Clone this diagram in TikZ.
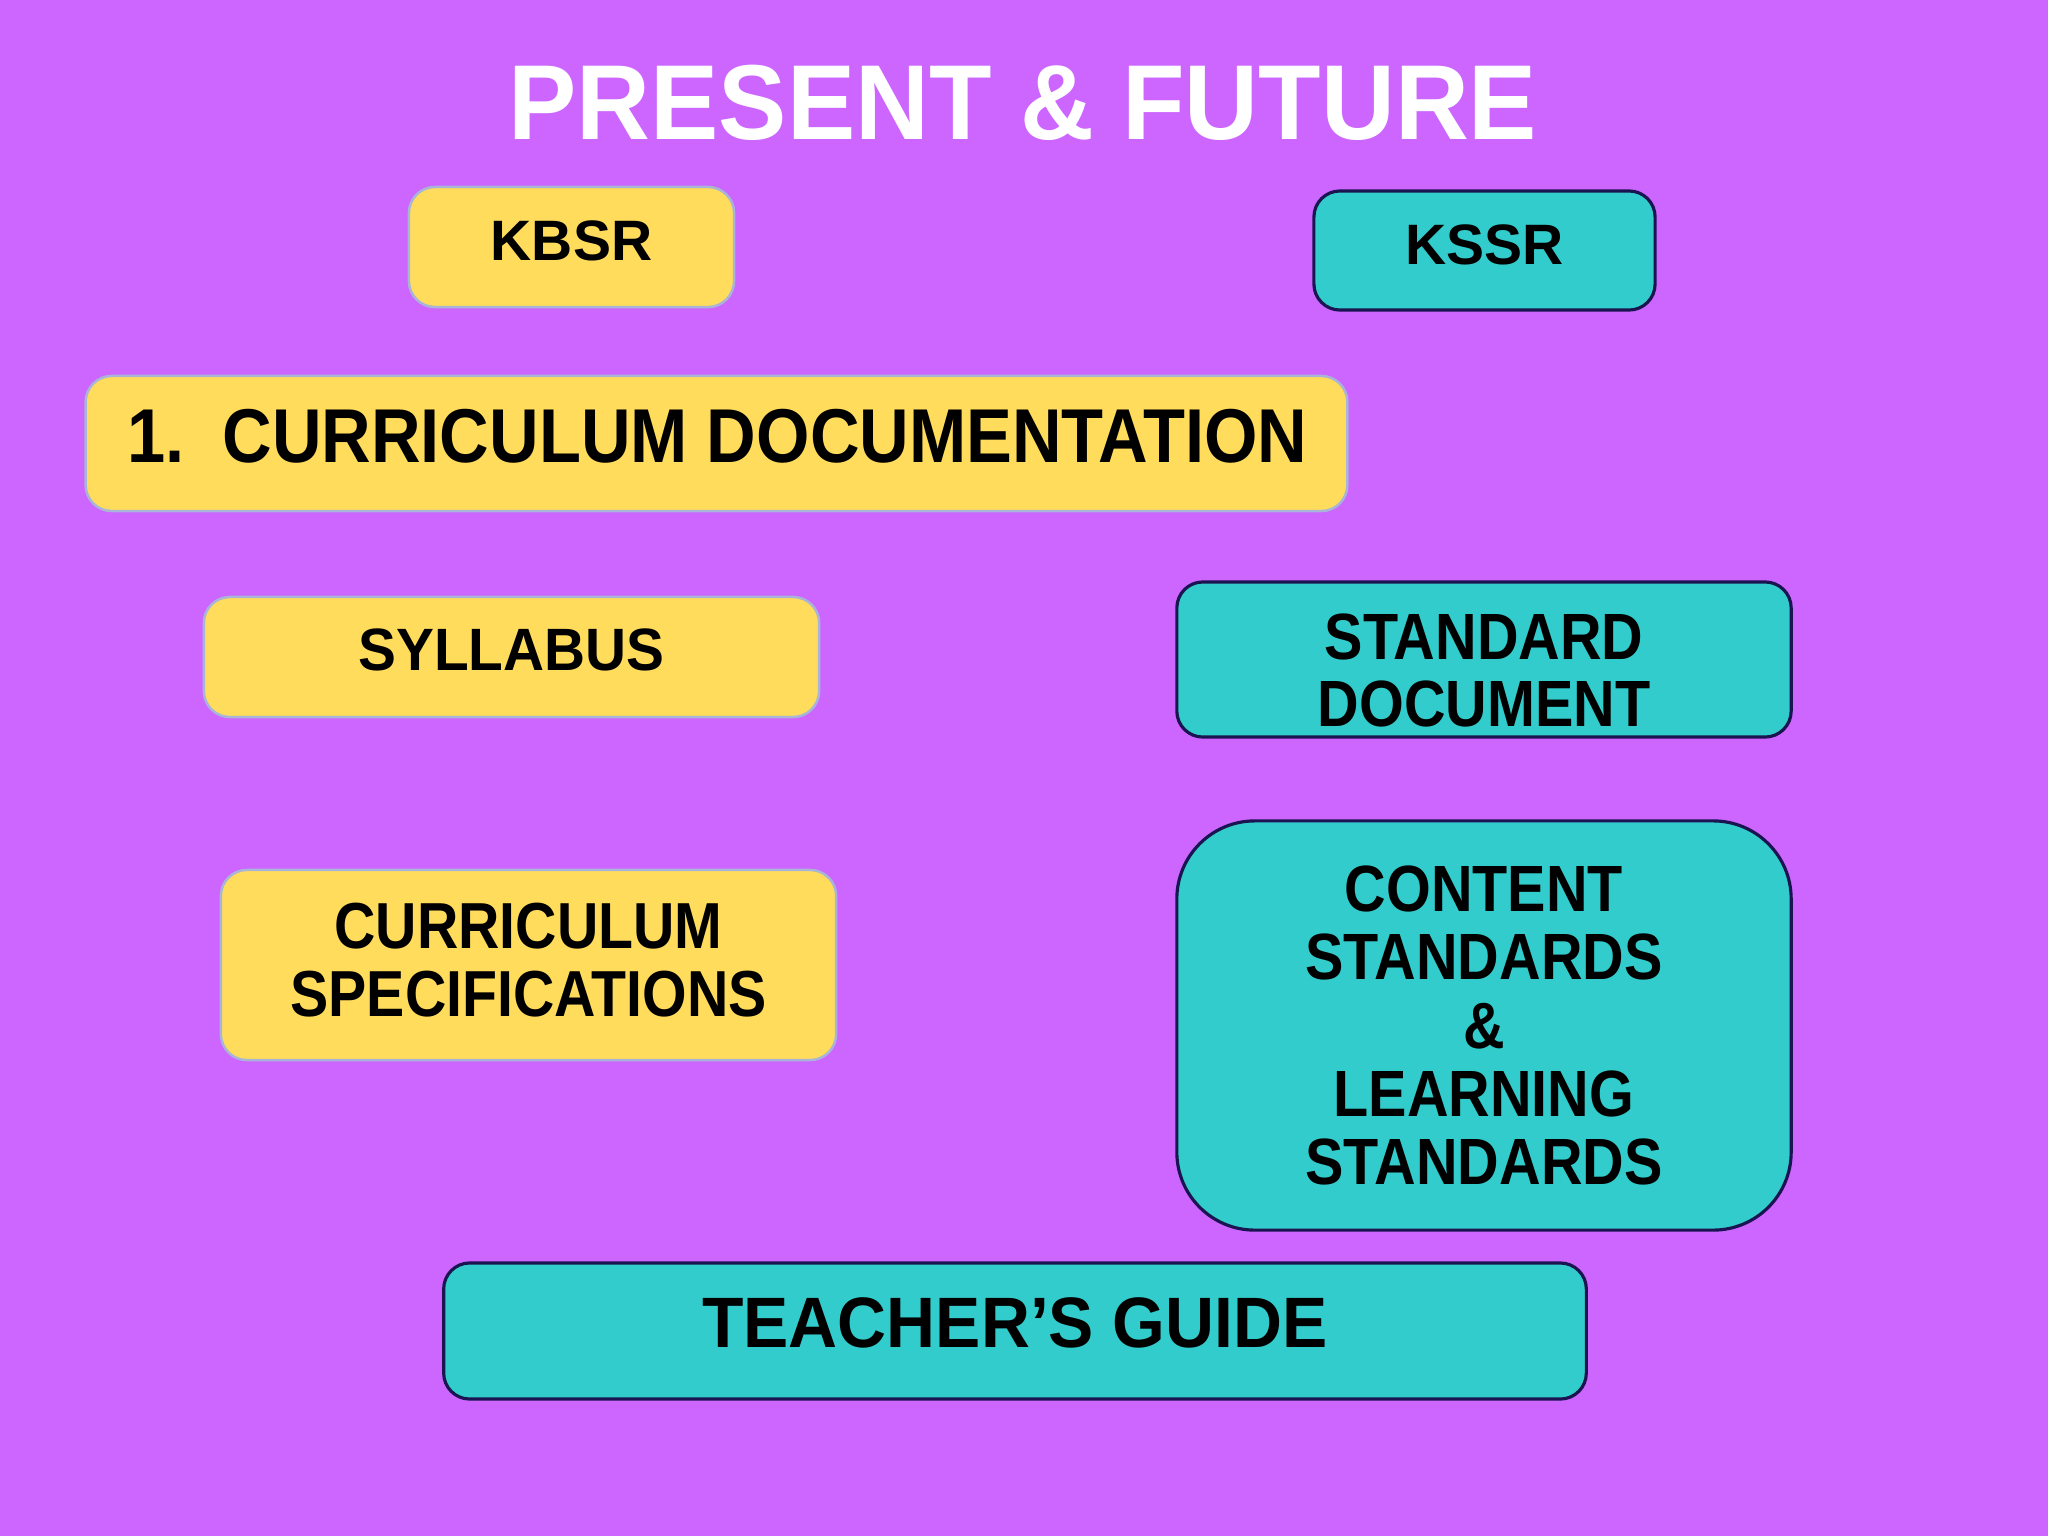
\documentclass[tikz,border=0pt]{standalone}
\usepackage{fontspec}
\setmainfont{Liberation Sans}
\newfontfamily\fsa[FakeStretch=0.95]{Liberation Sans}
\newfontfamily\fsc[FakeStretch=0.96]{Liberation Sans}
\newfontfamily\fsb[FakeStretch=0.88]{Liberation Sans}
\newfontfamily\fsd[FakeStretch=0.90]{Liberation Sans}
\definecolor{bgpurple}{HTML}{CC66FF}
\definecolor{boxyellow}{HTML}{FFDC5C}
\definecolor{boxteal}{HTML}{33CCCC}
\definecolor{yedge}{HTML}{A8B4D8}
\definecolor{tedge}{HTML}{1A1550}
\tikzset{
  ybox/.style={draw=yedge, line width=0.7pt, fill=boxyellow, rounded corners=0.26cm, inner sep=0pt},
  tbox/.style={draw=tedge, line width=0.9pt, fill=boxteal, rounded corners=0.26cm, inner sep=0pt},
  lbl/.style={inner sep=0pt, align=center, text=black},
}
\begin{document}
\begin{tikzpicture}[x=0.01cm,y=-0.01cm]
\fill[bgpurple] (0,0) rectangle (2048,1536);
\useasboundingbox (0,0) rectangle (2048,1536);
\node[inner sep=0pt, text=white, font=\fsc\fontsize{30.3}{33}\selectfont\bfseries] (title) at (1023,103) {PRESENT \& FUTURE};
% boxes
\node[ybox, minimum width=3.25cm, minimum height=1.2cm] (kbsr) at (571.5,247) {};
\node[tbox, minimum width=3.41cm, minimum height=1.19cm] (kssr) at (1484.5,250.5) {};
\node[ybox, minimum width=12.61cm, minimum height=1.35cm] (cdoc) at (716.5,443.5) {};
\node[ybox, minimum width=6.15cm, minimum height=1.2cm] (syl) at (511.5,657) {};
\node[tbox, minimum width=6.14cm, minimum height=1.55cm] (sdoc) at (1484,659.5) {};
\node[ybox, minimum width=6.15cm, minimum height=1.9cm] (cspec) at (528.5,965) {};
\node[tbox, rounded corners=0.78cm, minimum width=6.14cm, minimum height=4.09cm] (cstd) at (1484,1025.5) {};
\node[tbox, minimum width=11.42cm, minimum height=1.36cm] (tg) at (1015,1331) {};
% labels
\node[lbl, font=\fontsize{16.2}{18}\selectfont\bfseries] (kbsrt) at ([yshift=0.065cm]kbsr.center) {KBSR};
\node[lbl, font=\fontsize{16.2}{18}\selectfont\bfseries] (kssrt) at ([yshift=0.06cm]kssr.center) {KSSR};
\node[lbl, anchor=west, font=\fsd\fontsize{21.7}{24}\selectfont\bfseries] (cdoct) at ([xshift=0.42cm,yshift=0.07cm]cdoc.west) {1.\ \ CURRICULUM DOCUMENTATION};
\node[lbl, font=\fsa\fontsize{17}{19}\selectfont\bfseries] (sylt) at ([yshift=0.07cm]syl.center) {SYLLABUS};
\node[lbl, font=\fsb\fontsize{18.6}{19.3}\selectfont\bfseries] (sdoct) at ([yshift=-0.11cm]sdoc.center) {STANDARD\\DOCUMENT};
\node[lbl, font=\fsb\fontsize{18.5}{19.3}\selectfont\bfseries] (cspect) at ([yshift=0.045cm]cspec.center) {CURRICULUM\\SPECIFICATIONS};
\node[lbl, font=\fsb\fontsize{18.6}{19.4}\selectfont\bfseries] (cstdt) at (cstd.center) {CONTENT\\STANDARDS\\\&\\LEARNING\\STANDARDS};
\node[lbl, font=\fsa\fontsize{20.3}{23}\selectfont\bfseries] (tgt) at ([yshift=0.08cm]tg.center) {TEACHER’S GUIDE};
\end{tikzpicture}
\end{document}
